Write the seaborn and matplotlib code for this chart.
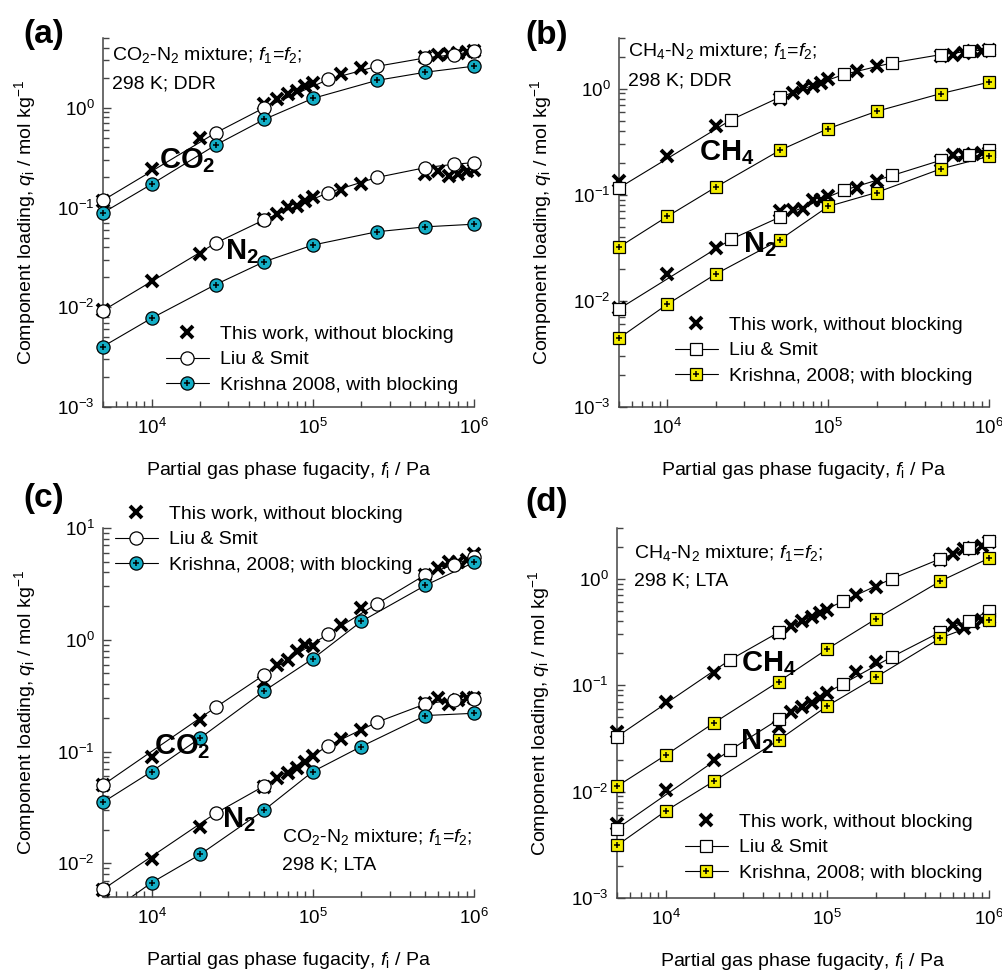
import matplotlib
matplotlib.use("Agg")
import matplotlib.pyplot as plt
from matplotlib.lines import Line2D
from matplotlib.legend_handler import HandlerTuple
import seaborn as sns

sns.set_style("ticks")
plt.rcParams["font.family"] = ["Liberation Sans", "DejaVu Sans"]
plt.rcParams["mathtext.fontset"] = "custom"
plt.rcParams["mathtext.rm"] = "Liberation Sans"
plt.rcParams["mathtext.it"] = "Liberation Sans:italic"
plt.rcParams["mathtext.bf"] = "Liberation Sans:bold"
for k in ["text.color", "axes.labelcolor", "xtick.labelcolor", "ytick.labelcolor"]:
    plt.rcParams[k] = "black"

# fugacity points (Pa)
x_work = [5e3, 1e4, 2e4, 5e4, 6e4, 7e4, 8e4, 9e4, 1e5, 1.5e5, 2e5, 5e5, 6e5, 7e5, 8e5, 9e5, 1e6]
x_liu = [5e3, 2.5e4, 5e4, 1.25e5, 2.5e5, 5e5, 7.5e5, 1e6]
x_kr_a = [5e3, 1e4, 2.5e4, 5e4, 1e5, 2.5e5, 5e5, 1e6]
x_kr = [5e3, 1e4, 2e4, 5e4, 1e5, 2e5, 5e5, 1e6]

# (a) CO2-N2, DDR
a_co2_work = [0.115, 0.242, 0.50, 1.08, 1.21, 1.36, 1.47, 1.67, 1.78, 2.2, 2.51, 3.2, 3.4, 3.45, 3.5, 3.6, 3.7]
a_co2_liu = [0.118, 0.56, 1.0, 1.92, 2.6, 3.16, 3.4, 3.69]
a_co2_kr = [0.0885, 0.171, 0.423, 0.764, 1.24, 1.88, 2.27, 2.61]
a_n2_work = [0.0093, 0.0185, 0.0342, 0.077, 0.0858, 0.100, 0.104, 0.117, 0.126, 0.150, 0.171, 0.216, 0.233, 0.207, 0.216, 0.233, 0.238]
a_n2_liu = [0.00926, 0.044, 0.0753, 0.141, 0.20, 0.251, 0.271, 0.282]
a_n2_kr = [0.00404, 0.00776, 0.0169, 0.0286, 0.042, 0.0571, 0.064, 0.068]

# (b) CH4-N2, DDR
b_ch4_work = [0.134, 0.23, 0.448, 0.80, 0.91, 1.01, 1.05, 1.13, 1.22, 1.48, 1.62, 2.05, 2.09, 2.17, 2.25, 2.25, 2.3]
b_ch4_liu = [0.116, 0.51, 0.83, 1.36, 1.75, 2.09, 2.25, 2.33]
b_ch4_kr = [0.0321, 0.0625, 0.118, 0.262, 0.42, 0.611, 0.897, 1.15]
b_n2_work = [0.0085, 0.0179, 0.0314, 0.070, 0.0722, 0.073, 0.0897, 0.09, 0.0965, 0.117, 0.134, 0.21, 0.238, 0.238, 0.24, 0.247, 0.25]
b_n2_liu = [0.0084, 0.0382, 0.0615, 0.11, 0.152, 0.211, 0.238, 0.266]
b_n2_kr = [0.00445, 0.0093, 0.0179, 0.0376, 0.0776, 0.105, 0.175, 0.23]

# (c) CO2-N2, LTA
c_co2_work = [0.05, 0.0901, 0.19, 0.42, 0.597, 0.662, 0.787, 0.902, 0.88, 1.36, 1.92, 3.8, 4.38, 5.0, 5.0, 5.2, 5.8]
c_co2_liu = [0.0503, 0.249, 0.486, 1.13, 2.1, 3.82, 4.7, 5.5]
c_co2_kr = [0.0352, 0.0662, 0.132, 0.349, 0.676, 1.46, 3.07, 4.93]
c_n2_work = [0.0058, 0.0109, 0.0213, 0.048, 0.0577, 0.064, 0.071, 0.081, 0.0914, 0.129, 0.156, 0.27, 0.30, 0.267, 0.29, 0.30, 0.30]
c_n2_liu = [0.00585, 0.0281, 0.0493, 0.113, 0.183, 0.267, 0.290, 0.296]
c_n2_kr = [0.0033, 0.00671, 0.012, 0.030, 0.0662, 0.111, 0.21, 0.22]

# (d) CH4-N2, LTA
d_ch4_work = [0.036, 0.0701, 0.13, 0.31, 0.357, 0.399, 0.437, 0.478, 0.506, 0.711, 0.841, 1.5, 1.7, 1.89, 1.96, 2.03, 2.2]
d_ch4_liu = [0.0328, 0.173, 0.314, 0.616, 1.0, 1.54, 1.93, 2.27]
d_ch4_kr = [0.0112, 0.022, 0.0445, 0.108, 0.219, 0.42, 0.95, 1.56]
d_n2_work = [0.0050, 0.0104, 0.020, 0.0407, 0.0565, 0.0628, 0.0676, 0.0754, 0.0853, 0.132, 0.164, 0.31, 0.365, 0.345, 0.385, 0.41, 0.43]
d_n2_liu = [0.00448, 0.0245, 0.0478, 0.103, 0.184, 0.316, 0.405, 0.495]
d_n2_kr = [0.00312, 0.00657, 0.0126, 0.0305, 0.0638, 0.119, 0.277, 0.413]

CYAN = "#13AEC6"
YELLOW = "#F4EE00"
W, H = 1003, 971

fig = plt.figure(figsize=(W / 100, H / 100), dpi=100)


def px_ax(l, r, t, b):
    return fig.add_axes([l / W, 1 - b / H, (r - l) / W, (b - t) / H])


def fx(p):
    return p / W


def fy(p):
    return 1 - p / H


def curve(ax, x, y, ylim, marker, fc, ms, plus=False):
    sns.lineplot(x=x, y=y, ax=ax, color="k", lw=0.8, estimator=None, sort=False,
                 legend=False, zorder=2)
    pts = [(xi, yi) for xi, yi in zip(x, y) if ylim[0] <= yi <= ylim[1]]
    xs = [p[0] for p in pts]
    ys = [p[1] for p in pts]
    sns.lineplot(x=xs, y=ys, ax=ax, linestyle="", marker=marker, markerfacecolor=fc,
                 markeredgecolor="k", markeredgewidth=0.9, markersize=ms,
                 estimator=None, sort=False, legend=False, clip_on=False, zorder=4)
    if plus:
        sns.lineplot(x=xs, y=ys, ax=ax, linestyle="", marker="+", color="k",
                     markeredgecolor="k", markeredgewidth=1.1, markersize=5,
                     estimator=None, sort=False, legend=False, clip_on=False, zorder=5)


def work(ax, y, ylim):
    pts = [(xi, yi) for xi, yi in zip(x_work, y) if ylim[0] <= yi <= ylim[1]]
    sns.lineplot(x=[p[0] for p in pts], y=[p[1] for p in pts], ax=ax, linestyle="",
                 marker="x", color="k", markeredgecolor="k", markeredgewidth=2.8,
                 markersize=9, estimator=None, sort=False, legend=False,
                 clip_on=False, zorder=3)


def style(ax, ylim):
    ax.set_xscale("log")
    ax.set_yscale("log")
    ax.set_xlim(5e3, 1e6)
    ax.set_ylim(*ylim)
    sns.despine(ax=ax)
    for s in ["left", "bottom"]:
        ax.spines[s].set_color("#444444")
        ax.spines[s].set_linewidth(1.1)
    ax.tick_params(which="both", direction="in", color="#444444", width=1.0,
                   labelsize=13.5)
    ax.tick_params(which="major", length=6)
    ax.tick_params(which="minor", length=4.5)
    ax.tick_params(axis="x", pad=8)
    ax.tick_params(axis="y", pad=6)
    ax.set_xlabel(r"Partial gas phase fugacity, $f_\mathregular{i}$ / Pa", fontsize=14)
    ax.set_ylabel(r"Component loading, $q_\mathregular{i}$ / mol kg$^{-1}$", fontsize=14)
    ax.xaxis.set_label_coords(0.5, -0.143)
    ax.yaxis.set_label_coords(-0.175, 0.5)


def legend(ax, circle, fc, label3, left, top):
    mk = "o" if circle else "s"
    ms = 9.5 if circle else 8.5
    h1 = Line2D([], [], ls="", marker="x", color="k", mew=2.8, ms=9)
    h2 = Line2D([], [], color="k", lw=0.8, marker=mk, mfc="w", mec="k", mew=0.9, ms=ms)
    h3a = Line2D([], [], color="k", lw=0.8, marker=mk, mfc=fc, mec="k", mew=0.9, ms=ms)
    h3b = Line2D([], [], ls="", marker="+", color="k", mew=1.1, ms=5)
    ax.legend([h1, h2, (h3a, h3b)],
              ["This work, without blocking", "Liu & Smit", label3],
              handler_map={tuple: HandlerTuple(ndivide=1, pad=0)},
              loc="upper left", bbox_to_anchor=(fx(left), fy(top)),
              bbox_transform=fig.transFigure, frameon=False, fontsize=14,
              borderpad=0, borderaxespad=0, handlelength=2.2, handletextpad=0.6,
              labelspacing=0.42)


def note(lines, left, bases):
    for txt, b in zip(lines, bases):
        fig.text(fx(left), fy(b), txt, fontsize=14, va="baseline", ha="left")


def big(txt, left, base):
    fig.text(fx(left), fy(base), txt, fontsize=21, va="baseline", ha="left")


def tag(txt, left, base):
    fig.text(fx(left), fy(base), txt, fontsize=24, fontweight="bold",
             va="baseline", ha="left")


# ---- (a)
ylim_a = (1e-3, 5)
ax = px_ax(103, 474, 38, 407)
for yw, yl, yk in [(a_co2_work, a_co2_liu, a_co2_kr), (a_n2_work, a_n2_liu, a_n2_kr)]:
    curve(ax, x_liu, yl, ylim_a, "o", "w", 9.5)
    curve(ax, x_kr_a, yk, ylim_a, "o", CYAN, 9.5, plus=True)
    work(ax, yw, ylim_a)
style(ax, ylim_a)
legend(ax, True, CYAN, "Krishna 2008, with blocking", 166, 325)
note([r"CO$_2$-N$_2$ mixture; $f_1$=$f_2$;", "298 K; DDR"], 112, [60, 88])
big(r"$\mathbf{CO_2}$", 159, 168)
big(r"$\mathbf{N_2}$", 225, 259)
tag("(a)", 23, 43)

# ---- (b)
ylim_b = (1e-3, 3)
ax = px_ax(619, 989, 38, 407)
for yw, yl, yk in [(b_ch4_work, b_ch4_liu, b_ch4_kr), (b_n2_work, b_n2_liu, b_n2_kr)]:
    curve(ax, x_liu, yl, ylim_b, "s", "w", 8.5)
    curve(ax, x_kr, yk, ylim_b, "s", YELLOW, 8.5, plus=True)
    work(ax, yw, ylim_b)
style(ax, ylim_b)
legend(ax, False, YELLOW, "Krishna, 2008; with blocking", 675, 316)
note([r"CH$_4$-N$_2$ mixture; $f_1$=$f_2$;", "298 K; DDR"], 628, [56, 85])
big(r"$\mathbf{CH_4}$", 699, 160)
big(r"$\mathbf{N_2}$", 743, 252)
tag("(b)", 525, 44)

# ---- (c)
ylim_c = (5e-3, 10)
ax = px_ax(103, 474, 528, 897)
for yw, yl, yk in [(c_co2_work, c_co2_liu, c_co2_kr), (c_n2_work, c_n2_liu, c_n2_kr)]:
    curve(ax, x_liu, yl, ylim_c, "o", "w", 9.5)
    curve(ax, x_kr, yk, ylim_c, "o", CYAN, 9.5, plus=True)
    work(ax, yw, ylim_c)
style(ax, ylim_c)
legend(ax, True, CYAN, "Krishna, 2008; with blocking", 115, 505)
note([r"CO$_2$-N$_2$ mixture; $f_1$=$f_2$;", "298 K; LTA"], 282, [842, 869])
big(r"$\mathbf{CO_2}$", 154, 754)
big(r"$\mathbf{N_2}$", 222, 827)
tag("(c)", 23, 507)

# ---- (d)
ylim_d = (1e-3, 3)
ax = px_ax(617, 989, 528, 898)
for yw, yl, yk in [(d_ch4_work, d_ch4_liu, d_ch4_kr), (d_n2_work, d_n2_liu, d_n2_kr)]:
    curve(ax, x_liu, yl, ylim_d, "s", "w", 8.5)
    curve(ax, x_kr, yk, ylim_d, "s", YELLOW, 8.5, plus=True)
    work(ax, yw, ylim_d)
style(ax, ylim_d)
legend(ax, False, YELLOW, "Krishna, 2008; with blocking", 685, 813)
note([r"CH$_4$-N$_2$ mixture; $f_1$=$f_2$;", "298 K; LTA"], 634, [558, 586])
big(r"$\mathbf{CH_4}$", 741, 671)
big(r"$\mathbf{N_2}$", 740, 749)
tag("(d)", 525, 511)

fig.savefig("out.png", dpi=100)
